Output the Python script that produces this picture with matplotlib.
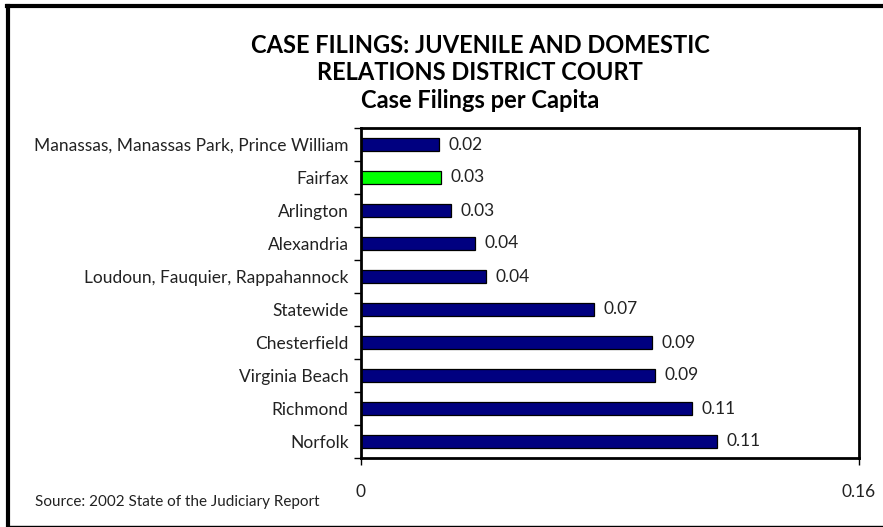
import numpy as np
import matplotlib
matplotlib.use("Agg")
import matplotlib.pyplot as plt
from matplotlib.lines import Line2D

# data, top to bottom as shown
places = ["Manassas, Manassas Park, Prince William", "Fairfax", "Arlington",
          "Alexandria", "Loudoun, Fauquier, Rappahannock", "Statewide",
          "Chesterfield", "Virginia Beach", "Richmond", "Norfolk"]
per_capita = [0.0252, 0.0256, 0.0289, 0.0367, 0.0402, 0.0750,
              0.0935, 0.0946, 0.1065, 0.1145]
value_labels = ["0.02", "0.03", "0.03", "0.04", "0.04", "0.07",
                "0.09", "0.09", "0.11", "0.11"]
highlight = "Fairfax"

font = ["Lato", "DejaVu Sans"]
txt_color = "#222222"

fig = plt.figure(figsize=(8.83, 5.27), dpi=100)
ax = fig.add_axes([361/883, 69/527, 498/883, 330/527])

n = len(places)
ypos = np.arange(n)[::-1]
colors = ["#00FF00" if p == highlight else "#000080" for p in places]
ax.barh(ypos, per_capita, height=0.4, color=colors, edgecolor="black", linewidth=0.9)

for y, v, lab in zip(ypos, per_capita, value_labels):
    ax.text(v + 0.003, y, lab, va="center", ha="left", fontsize=12.5, family=font, color=txt_color)

ax.set_xlim(0, 0.16)
ax.set_ylim(-0.5, n - 0.5)
ax.set_xticks([0, 0.16])
ax.set_xticklabels(["0", "0.16"], fontsize=12.5, family=font, color=txt_color)
ax.tick_params(axis="x", length=5, width=1, pad=14, direction="out")

ax.set_yticks(ypos)
ax.set_yticklabels(places, fontsize=12.5, family=font, color=txt_color)
ax.tick_params(axis="y", which="major", length=0, pad=9)
ax.set_yticks(np.arange(n + 1) - 0.5, minor=True)
ax.tick_params(axis="y", which="minor", length=5, width=1, direction="out")

for s in ax.spines.values():
    s.set_linewidth(2)

title_lines = ["CASE FILINGS: JUVENILE AND DOMESTIC", "RELATIONS DISTRICT COURT",
               "Case Filings per Capita"]
for ty, line in zip([45, 72, 100], title_lines):
    fig.text(480/883, 1 - ty/527, line, ha="center", va="center",
             fontsize=17, fontweight="bold", family=font, color="black")

fig.text(35/883, 1 - 502/527, "Source: 2002 State of the Judiciary Report", ha="left", va="center",
         fontsize=11, family=font, color=txt_color)

# outer frame
fig.add_artist(Line2D([7/883, 1], [1 - 6/527, 1 - 6/527], color="black", lw=3, transform=fig.transFigure))
fig.add_artist(Line2D([8/883, 8/883], [1 - 6/527, 1 - 526/527], color="black", lw=3, transform=fig.transFigure))
fig.add_artist(Line2D([7/883, 1], [1 - 526/527, 1 - 526/527], color="black", lw=1, transform=fig.transFigure))

fig.savefig("out.png", dpi=100)
